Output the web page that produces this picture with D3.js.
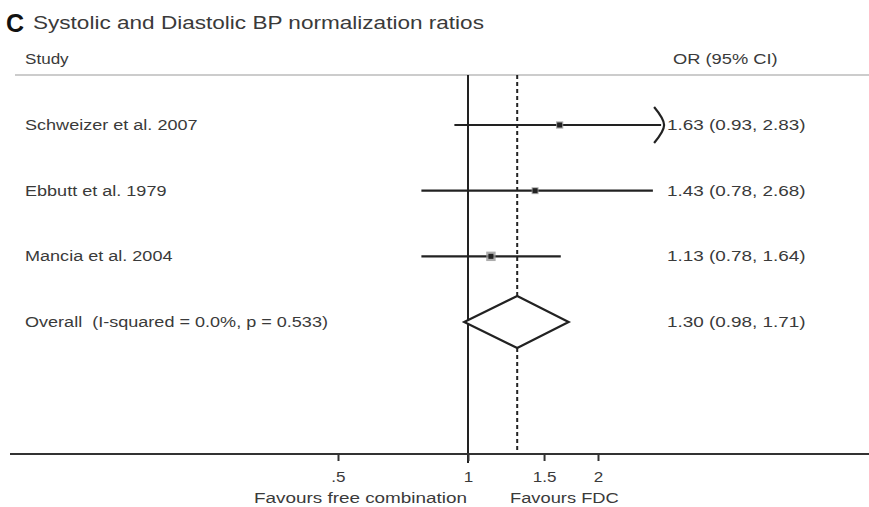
<!DOCTYPE html>
<html>
<head>
<meta charset="utf-8">
<script src="https://cdn.jsdelivr.net/npm/d3@7"></script>
<style>
  body { margin: 0; background: #fff; }
  text { font-family: "Liberation Sans", Arial, sans-serif; fill: #3a3a3a; white-space: pre; }
</style>
</head>
<body>
<div id="viz"></div>
<script>
const width = 869
const height = 507

// data
const studies = ["Schweizer et al. 2007", "Ebbutt et al. 1979", "Mancia et al. 2004"]
const orValues = [1.63, 1.43, 1.13]
const ciLower = [0.93, 0.78, 0.78]
const ciUpper = [2.83, 2.68, 1.64]
const weights = [22, 18, 60]
const overallLabel = "Overall  (I-squared = 0.0%, p = 0.533)"
const overall = {or: 1.30, lo: 0.98, hi: 1.71}
const tickValues = [0.5, 1, 1.5, 2]
const tickLabels = [".5", "1", "1.5", "2"]
const clipMax = 2.8

// the original text is a bit stretched sideways
const sx = 1.22

const svg = d3.select("#viz").append("svg").attr("width", width).attr("height", height)

const xScale = d3.scaleLog().domain([0.5, 2]).range([338, 598])
const rowY = d3.scalePoint().domain([...studies, "overall"]).range([125, 322])

const headerY = 75
const axisY = 454

function addText(g, x, y, str, size, anchor) {
  return g.append("text").attr("transform", `translate(${x}, ${y}) scale(${sx}, 1)`)
    .attr("text-anchor", anchor || "start").attr("font-size", size).text(str)
}

// title
svg.append("text").attr("x", 6).attr("y", 32).text("C").attr("font-size", 25).attr("font-weight", "bold").style("fill", "#111")
addText(svg, 33, 29, "Systolic and Diastolic BP normalization ratios", 18.5)

// header
addText(svg, 25, 64, "Study", 14)
addText(svg, 673, 64, "OR (95% CI)", 15)
svg.append("line").attr("x1", 15).attr("x2", width).attr("y1", headerY).attr("y2", headerY).attr("stroke", "#bbb").attr("stroke-width", 1.5)

// reference lines
svg.append("line").attr("x1", xScale(1)).attr("x2", xScale(1)).attr("y1", headerY).attr("y2", axisY + 9).attr("stroke", "#222").attr("stroke-width", 2)
svg.append("line").attr("x1", xScale(overall.or)).attr("x2", xScale(overall.or)).attr("y1", headerY).attr("y2", axisY)
  .attr("stroke", "#222").attr("stroke-width", 2).attr("stroke-dasharray", "4,3")

// x axis
const axisG = svg.append("g").attr("transform", `translate(0, ${axisY})`)
axisG.append("line").attr("x1", 10).attr("x2", width).attr("y1", 0).attr("y2", 0).attr("stroke", "#333").attr("stroke-width", 2)
const xAxis = d3.axisBottom(xScale).tickValues(tickValues).tickFormat((d, i) => tickLabels[i]).tickSize(7).tickPadding(11)
const ax = axisG.append("g").call(xAxis)
ax.select(".domain").remove()
ax.selectAll("line").attr("stroke", "#333").attr("stroke-width", 2)
ax.selectAll("text").attr("font-size", 14).attr("font-family", "Liberation Sans, Arial, sans-serif")
  .attr("transform", `scale(${sx}, 1)`).style("fill", "#3a3a3a")

addText(svg, 467, 503, "Favours free combination", 15.5, "end")
addText(svg, 510, 503, "Favours FDC", 15)

// study rows
const rows = svg.append("g")
studies.forEach((s, i) => {
  const y = rowY(s)
  const hi = Math.min(ciUpper[i], clipMax)
  addText(rows, 25, y + 5, s, 14.8)
  rows.append("line").attr("x1", xScale(ciLower[i])).attr("x2", xScale(hi)).attr("y1", y).attr("y2", y)
    .attr("stroke", "#222").attr("stroke-width", 2.2)
  if (ciUpper[i] > clipMax) {
    const xe = xScale(clipMax)
    rows.append("path").attr("d", `M ${xe - 7} ${y - 18} Q ${xe + 3} ${y - 6} ${xe + 3} ${y} Q ${xe + 3} ${y + 6} ${xe - 7} ${y + 18}`)
      .attr("fill", "none").attr("stroke", "#222").attr("stroke-width", 2.2)
  }
  const box = 4 + Math.sqrt(weights[i]) * 0.7
  rows.append("rect").attr("x", xScale(orValues[i]) - box / 2).attr("y", y - box / 2).attr("width", box).attr("height", box)
    .attr("fill", "#999").attr("opacity", 0.8)
  rows.append("rect").attr("x", xScale(orValues[i]) - 2.5).attr("y", y - 2.5).attr("width", 5).attr("height", 5).attr("fill", "#222")
  addText(rows, 667, y + 5, `${orValues[i].toFixed(2)} (${ciLower[i].toFixed(2)}, ${ciUpper[i].toFixed(2)})`, 15.5)
})

// overall diamond
const oy = rowY("overall")
addText(rows, 25, oy + 5, overallLabel, 14.8)
rows.append("path")
  .attr("d", `M ${xScale(overall.lo)} ${oy} L ${xScale(overall.or)} ${oy - 26} L ${xScale(overall.hi)} ${oy} L ${xScale(overall.or)} ${oy + 26} Z`)
  .attr("fill", "#fff").attr("stroke", "#222").attr("stroke-width", 2.2)
addText(rows, 667, oy + 5, `${overall.or.toFixed(2)} (${overall.lo.toFixed(2)}, ${overall.hi.toFixed(2)})`, 15.5)
</script>
</body>
</html>
